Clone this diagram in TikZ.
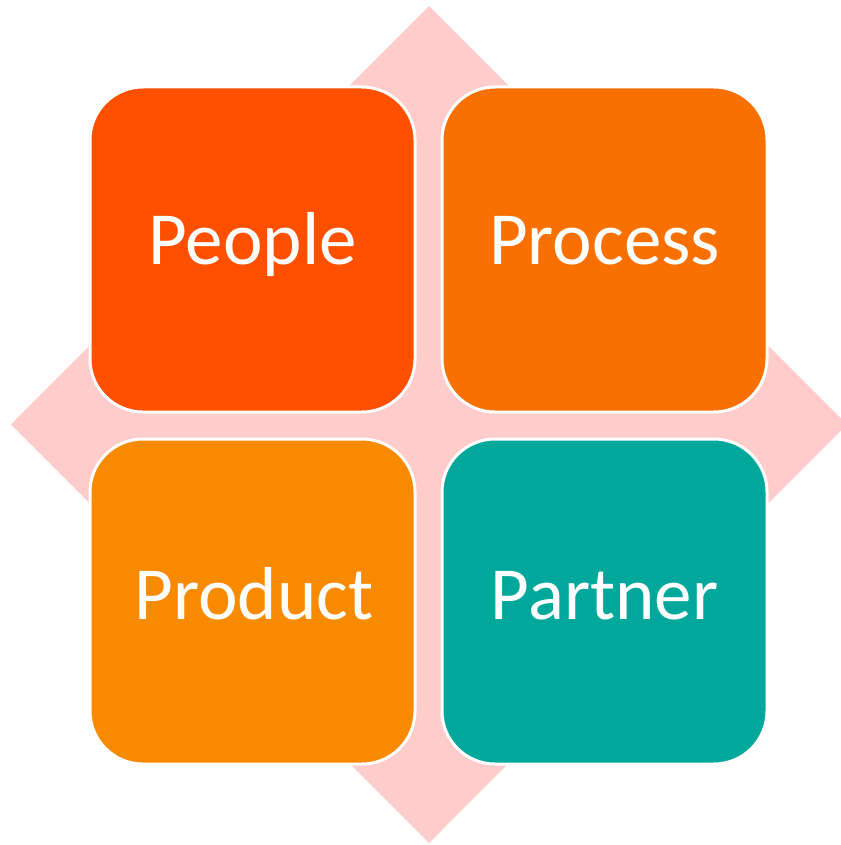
\documentclass[tikz,border=0pt]{standalone}
\usepackage{fontspec}
\setmainfont{Carlito}
\definecolor{pinkbg}{RGB}{255,204,204}
\definecolor{cPeople}{RGB}{255,80,0}
\definecolor{cProcess}{RGB}{248,112,0}
\definecolor{cProduct}{RGB}{248,138,0}
\definecolor{cPartner}{RGB}{0,168,156}
\begin{document}
\begin{tikzpicture}[x=1pt,y=-1pt,
  tile/.style={draw=white,line width=3pt,rounded corners=53pt},
  lbl/.style={text=white,font=\fontsize{75}{90}\selectfont,anchor=base,inner sep=0pt}]
\useasboundingbox (0,0) rectangle (840,845);
\fill[pinkbg] (429,6) -- (847,424.5) -- (429,843) -- (11,424.5) -- cycle;
\filldraw[tile,fill=cPeople]  (90,87) rectangle (415,412);
\filldraw[tile,fill=cProcess] (442,87) rectangle (767,412);
\filldraw[tile,fill=cProduct] (90,439) rectangle (415,764);
\filldraw[tile,fill=cPartner] (442,439) rectangle (767,764);
\node[lbl] (people) at (252.5,264) {People};
\node[lbl] (process) at (604.5,264) {Process};
\node[lbl] (product) at (254,619) {Product};
\node[lbl] (partner) at (604.5,619) {Partner};
\end{tikzpicture}
\end{document}
